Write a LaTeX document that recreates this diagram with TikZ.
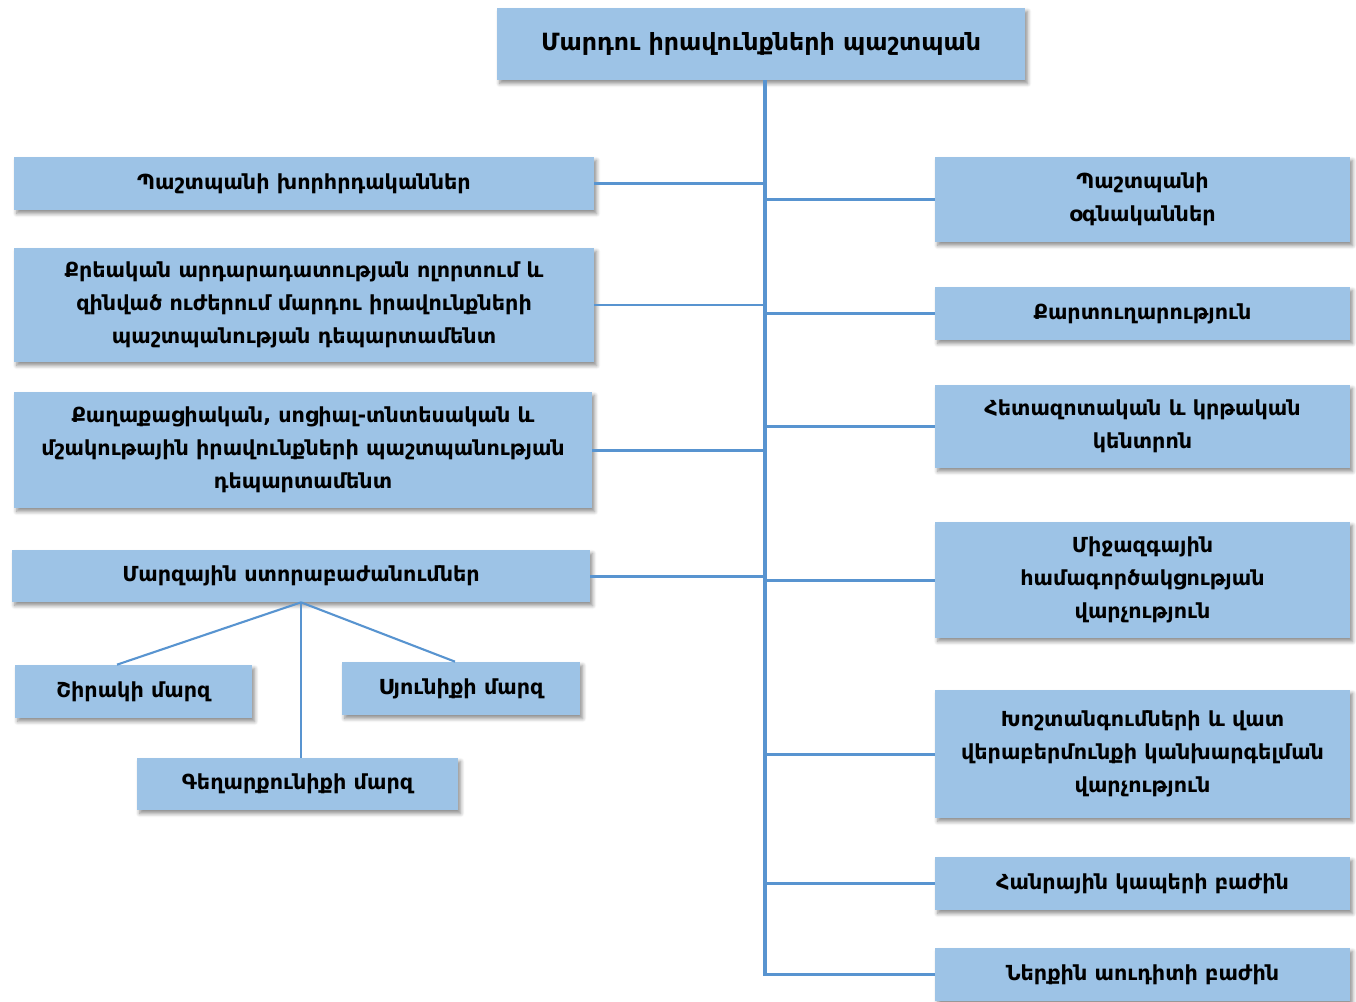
\documentclass[tikz,border=0pt]{standalone}
\usepackage{fontspec}
\setmainfont{DejaVu Sans}
\usetikzlibrary{shadows.blur}
\definecolor{boxblue}{RGB}{157,195,230}
\definecolor{linkblue}{RGB}{88,148,208}
\tikzset{
  unit/.style={fill=boxblue, blur shadow={shadow xshift=1.5pt, shadow yshift=-2pt, shadow blur steps=6, shadow opacity=45},
    align=center, inner sep=0pt, font=\bfseries\fontsize{11.8}{18.7}\selectfont},
  link/.style={draw=linkblue, line width=1.7pt},
  sublink/.style={draw=linkblue, line width=1.2pt}
}
\begin{document}
\begin{tikzpicture}[x=0.02cm, y=-0.02cm]
\useasboundingbox (0,0) rectangle (1356,1001);
% head of the office
\node [unit, minimum width=10.56cm, minimum height=1.44cm, font=\bfseries\fontsize{13.5}{20}\selectfont] (head) at (761,44) {Մարդու իրավունքների պաշտպան};
% left column
\node [unit, minimum width=11.6cm, minimum height=1.06cm] (adv) at (304,183.5) {Պաշտպանի խորհրդականներ};
\node [unit, minimum width=11.6cm, minimum height=2.28cm] (crim) at (304,305) {Քրեական արդարադատության ոլորտում և\\ զինված ուժերում մարդու իրավունքների\\ պաշտպանության դեպարտամենտ};
\node [unit, minimum width=11.56cm, minimum height=2.32cm] (civ) at (303,450) {Քաղաքացիական, սոցիալ-տնտեսական և\\ մշակութային իրավունքների պաշտպանության\\ դեպարտամենտ};
\node [unit, minimum width=11.56cm, minimum height=1.04cm] (reg) at (301,576) {Մարզային ստորաբաժանումներ};
% regional offices
\node [unit, minimum width=4.74cm, minimum height=1.06cm] (shirak) at (133.5,691.5) {Շիրակի մարզ};
\node [unit, minimum width=4.76cm, minimum height=1.06cm] (syunik) at (461,688.5) {Սյունիքի մարզ};
\node [unit, minimum width=6.42cm, minimum height=1.04cm] (gegh) at (297.5,784) {Գեղարքունիքի մարզ};
% right column
\node [unit, minimum width=8.3cm, minimum height=1.7cm] (assist) at (1142.5,199.5) {Պաշտպանի\\ օգնականներ};
\node [unit, minimum width=8.3cm, minimum height=1.06cm] (office) at (1142.5,313.5) {Քարտուղարություն};
\node [unit, minimum width=8.3cm, minimum height=1.66cm] (edu) at (1142.5,426.5) {Հետազոտական և կրթական\\ կենտրոն};
\node [unit, minimum width=8.3cm, minimum height=2.32cm] (intl) at (1142.5,580) {Միջազգային\\ համագործակցության\\ վարչություն};
\node [unit, minimum width=8.3cm, minimum height=2.56cm] (torture) at (1142.5,754) {Խոշտանգումների և վատ\\ վերաբերմունքի կանխարգելման\\ վարչություն};
\node [unit, minimum width=8.3cm, minimum height=1.06cm] (pr) at (1142.5,883.5) {Հանրային կապերի բաժին};
\node [unit, minimum width=8.3cm, minimum height=1.06cm] (audit) at (1142.5,974.5) {Ներքին աուդիտի բաժին};
% trunk
\coordinate (trunkend) at (765,976);
\draw [draw=linkblue, line width=2.4pt] (head.south -| trunkend) -- (trunkend);
\draw [link] (adv.east) -- (adv.east -| trunkend);
\draw [link] (crim.east) -- (crim.east -| trunkend);
\draw [link] (civ.east) -- (civ.east -| trunkend);
\draw [link] (reg.east) -- (reg.east -| trunkend);
\draw [link] (assist.west -| trunkend) -- (assist.west);
\draw [link] (office.west -| trunkend) -- (office.west);
\draw [link] (edu.west -| trunkend) -- (edu.west);
\draw [link] (intl.west -| trunkend) -- (intl.west);
\draw [link] (torture.west -| trunkend) -- (torture.west);
\draw [link] (pr.west -| trunkend) -- (pr.west);
\draw [link] (audit.west -| trunkend) -- (audit.west);
% regional branches
\draw [sublink] (reg.south) -- ([xshift=-0.33cm]shirak.north);
\draw [sublink] (reg.south) -- ([xshift=-0.12cm]syunik.north);
\draw [sublink] (reg.south) -- (reg.south |- gegh.north);
\end{tikzpicture}
\end{document}
